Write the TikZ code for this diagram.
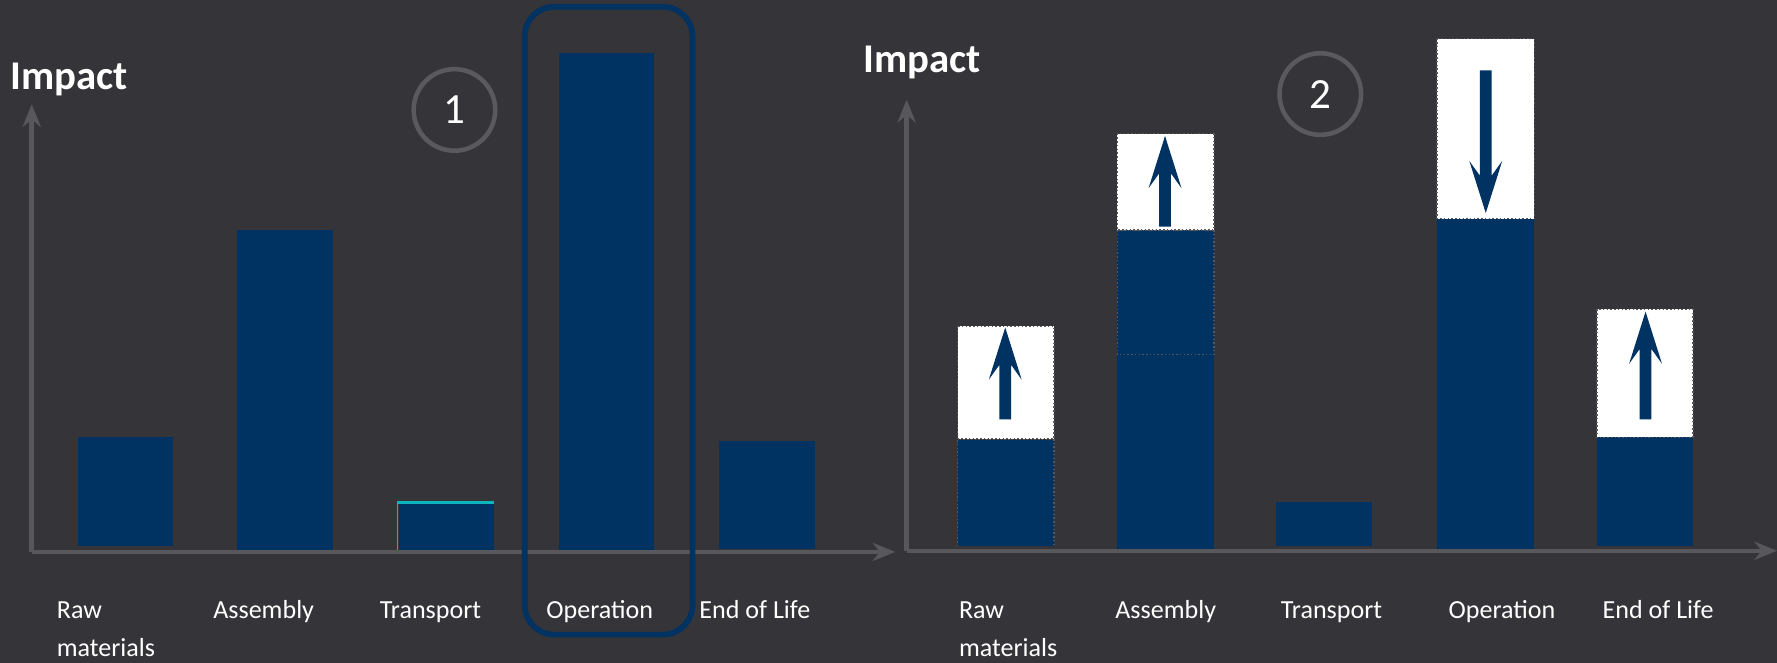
\documentclass[tikz,border=0pt]{standalone}
\usepackage{fontspec}
\setmainfont{Carlito}
\usetikzlibrary{arrows.meta}
\definecolor{bg}{HTML}{353438}
\definecolor{axisgray}{HTML}{58585C}
\definecolor{barblue}{HTML}{003262}
\definecolor{teal}{HTML}{10B4BC}
\definecolor{circgray}{HTML}{5A5A5E}
\tikzset{
  axis/.style={draw=axisgray, line width=4pt, -{Stealth[length=20pt,width=16pt]}},
  bar/.style={fill=barblue, draw=none},
  dotbox/.style={draw=axisgray, line width=1.3pt, dotted},
  whitebox/.style={fill=white, draw=axisgray, line width=1.3pt, dotted},
  blockarrow/.style={fill=barblue, draw=none},
  catlabel/.style={text=white, font=\fontsize{23}{27}\selectfont, anchor=base west, inner sep=0pt},
  impact/.style={text=white, font=\bfseries\fontsize{36}{40}\selectfont, anchor=base west, inner sep=0pt},
  numcirc/.style={circle, draw=circgray, line width=4pt, minimum size=72pt, inner sep=0pt, text=white, font=\fontsize{38}{44}\selectfont},
}
\newcommand{\uparr}[3]{% cx, tip y, bottom y
  \fill[blockarrow] (#1,#2) -- ({#1+14.5},{#2+46}) -- ({#1+5.2},{#2+33}) -- ({#1+5.2},#3) -- ({#1-5.2},#3) -- ({#1-5.2},{#2+33}) -- ({#1-14.5},{#2+46}) -- cycle;}
\newcommand{\downarr}[3]{% cx, tip y, top y
  \fill[blockarrow] (#1,#2) -- ({#1+14.5},{#2-46}) -- ({#1+5.2},{#2-33}) -- ({#1+5.2},#3) -- ({#1-5.2},#3) -- ({#1-5.2},{#2-33}) -- ({#1-14.5},{#2-46}) -- cycle;}
\begin{document}
\begin{tikzpicture}[x=1pt,y=-1pt]
\fill[bg] (0,0) rectangle (1568,585);
\useasboundingbox (0,0) rectangle (1568,585);

% ===== Left chart =====
\coordinate (LO) at (28,487);
\coordinate (LY) at (28,92);
\coordinate (LX) at (790,487);
% bars
\fill[bar] (69,386) rectangle (153,482);
\fill[bar] (209,203) rectangle (294,485);
\fill[bar] (352,444) rectangle (436,488);
\draw[teal, line width=1.2pt] (351,489) -- (351,443.5);
\draw[teal, line width=2.5pt] (350.4,443.5) -- (436,443.5);
\fill[bar] (493,47) rectangle (577,485);
\fill[bar] (634,389) rectangle (719,484);
\draw[axis] (LO) -- (LY);
\draw[axis] (LO) -- (LX);
\draw[draw=barblue, line width=5pt, rounded corners=26pt] (463,6) rectangle (611,560);
\node[impact] (imp1) at (9,79) {Impact};
\node[numcirc] (c1) at (401,97) {1};
\node[catlabel] (l1a) at (50,546) {Raw};
\node[catlabel] (l1b) at (50,579) {materials};
\node[catlabel] (l2) at (188,546) {Assembly};
\node[catlabel] (l3) at (335,546) {Transport};
\node[catlabel] (l4) at (482,546) {Operation};
\node[catlabel] (l5) at (617,546) {End of Life};

% ===== Right chart =====
\coordinate (RO) at (800,486);
\coordinate (RY) at (800,88);
\coordinate (RX) at (1568,486);
% Raw materials
\fill[bar] (845,388) rectangle (930,482);
\draw[dotbox] (845,482) -- (845,388) -- (930,388) -- (930,482);
\draw[whitebox] (845,288) rectangle (930,387);
\uparr{887}{289}{370}
% Assembly
\fill[bar] (986,203) rectangle (1071,485);
\draw[dotbox] (986,203) rectangle (1071,313);
\draw[whitebox] (986,118) rectangle (1071,203);
\uparr{1028}{120}{200}
% Transport
\fill[bar] (1126,443) rectangle (1211,482);
% Operation
\fill[bar] (1268,193) rectangle (1354,484);
\draw[whitebox] (1268,34) rectangle (1354,193);
\downarr{1311}{188}{62}
% End of Life
\fill[bar] (1409,386) rectangle (1494,482);
\draw[whitebox] (1409,273) rectangle (1494,386);
\uparr{1452}{275}{370}
\draw[axis] (RO) -- (RY);
\draw[axis] (RO) -- (RX);
\node[impact] (imp2) at (762,64) {Impact};
\node[numcirc] (c2) at (1165,83) {2};
\node[catlabel] (r1a) at (846,546) {Raw};
\node[catlabel] (r1b) at (846,579) {materials};
\node[catlabel] (r2) at (984,546) {Assembly};
\node[catlabel] (r3) at (1130,546) {Transport};
\node[catlabel] (r4) at (1278,546) {Operation};
\node[catlabel] (r5) at (1414,546) {End of Life};
\end{tikzpicture}
\end{document}
